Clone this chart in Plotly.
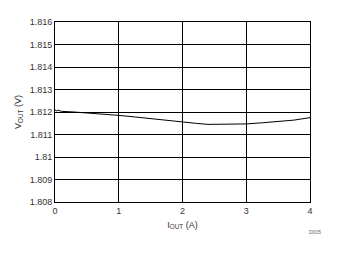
import plotly.graph_objects as go

iout = [0.0, 0.02, 0.05, 0.1, 0.3, 0.5, 0.75, 1.0, 1.25, 1.5, 1.75, 2.0, 2.2, 2.4, 2.6, 2.8, 3.0, 3.25, 3.5, 3.75, 4.0]
vout = [1.81210, 1.81205, 1.81208, 1.81203, 1.81200, 1.81196, 1.81192, 1.81185, 1.81178, 1.81170, 1.81163, 1.81157, 1.81150, 1.81145, 1.81145, 1.81145, 1.81147, 1.81152, 1.81157, 1.81164, 1.81175]

xticks = [0, 1, 2, 3, 4]
yticks = [1.808, 1.809, 1.81, 1.811, 1.812, 1.813, 1.814, 1.815, 1.816]
ytext = ["1.808", "1.809", "1.81", "1.811", "1.812", "1.813", "1.814", "1.815", "1.816"]

fig = go.Figure()
fig.add_trace(go.Scatter(x=iout, y=vout, mode="lines", line=dict(color="black", width=1), showlegend=False))

font = dict(family="Liberation Sans, Arial, sans-serif", size=9, color="#333")
fig.update_layout(
    width=339, height=254,
    margin=dict(l=55, r=29, t=22, b=52),
    paper_bgcolor="white", plot_bgcolor="white",
    font=font,
    xaxis=dict(range=[0, 4], tickvals=xticks, ticktext=[str(t) for t in xticks],
               showgrid=True, gridcolor="black", gridwidth=1,
               showline=True, linecolor="black", linewidth=1, mirror=True,
               ticks="", zeroline=False, tickfont=font,
               title=dict(text="I<sub>OUT</sub> (A)", font=font, standoff=6)),
    yaxis=dict(range=[1.808, 1.816], tickvals=yticks, ticktext=ytext,
               showgrid=True, gridcolor="black", gridwidth=1,
               showline=True, linecolor="black", linewidth=1, mirror=True,
               ticks="", zeroline=False, tickfont=font,
               title=dict(text="V<sub>OUT</sub> (V)", font=font, standoff=6)),
)
fig.add_annotation(text="D005", xref="paper", yref="paper", x=1.05, y=-0.165,
                   showarrow=False, font=dict(family="Liberation Sans, Arial, sans-serif", size=5, color="#666"),
                   xanchor="right", yanchor="middle")
fig.write_html("out.html")
